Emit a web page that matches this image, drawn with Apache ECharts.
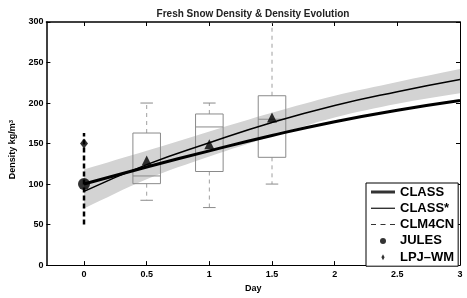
<!DOCTYPE html>
<html>
<head>
<meta charset="utf-8">
<script src="https://cdn.jsdelivr.net/npm/echarts@6/dist/echarts.min.js"></script>
<style>
  html, body { margin: 0; padding: 0; background: #fff; }
  #chart { width: 467px; height: 298px; }
</style>
</head>
<body>
<div id="chart"></div>
<script>
  // tick positions
  const dayTicks = [0, 0.5, 1, 1.5, 2, 2.5, 3]

  // fitted curves (CLASS, CLASS*) and the grey envelope around CLASS*
  const curveDays = [0, 0.5, 1, 1.5, 2, 2.5, 3]
  const classDensity = [100, 121, 141, 160, 177, 191, 203]
  const classStarDensity = [91, 124, 151, 176, 197, 214, 229]
  const bandLower = [70, 106, 134, 159, 182, 199, 212]
  const bandUpper = [118, 141, 165, 188, 209, 226, 242]

  // CLM4CN box plots
  const boxDays = [0.5, 1, 1.5]
  const boxLow = [80, 71, 100]
  const boxQ1 = [100.5, 115.5, 133]
  const boxMedian = [110, 170.5, 180]
  const boxQ3 = [163, 186.5, 209]
  const boxHigh = [200, 200, 320]
  const boxMean = [129, 149, 182]

  // single-point models at day 0
  const julesDay = [0]
  const julesDensity = [100]
  const lpjDay = [0]
  const lpjDensity = [150]
  const lpjLow = [50]
  const lpjHigh = [163]

  const font = "'Liberation Sans', Arial, Helvetica, sans-serif"
  const boxGrey = '#8a8a8a'

  function clipRect(params) {
    const cs = params.coordSys
    return { type: 'rect', shape: { x: cs.x, y: cs.y, width: cs.width, height: cs.height } }
  }

  // the envelope is drawn once, as one smoothed polygon
  // (end points are doubled so the two ends stay straight)
  function renderBand(params, api) {
    if (params.dataIndex !== 0) return
    const top = curveDays.map((d, i) => api.coord([d, bandUpper[i]]))
    const bottom = curveDays.map((d, i) => api.coord([d, bandLower[i]])).reverse()
    const pts = [top[0]].concat(top, [top[top.length - 1]], [bottom[0]], bottom, [bottom[bottom.length - 1]])
    return {
      type: 'polygon',
      clipPath: clipRect(params),
      shape: { points: pts, smooth: 0.35 },
      style: { fill: '#d3d3d3', stroke: null }
    }
  }

  function renderBox(params, api) {
    const x = api.value(0)
    const half = api.size([0.11, 0])[0]
    const cap = api.size([0.05, 0])[0]
    const pLow = api.coord([x, api.value(1)])
    const pQ1 = api.coord([x, api.value(2)])
    const pMed = api.coord([x, api.value(3)])
    const pQ3 = api.coord([x, api.value(4)])
    const pHigh = api.coord([x, api.value(5)])
    const whisker = { stroke: '#a0a0a0', lineWidth: 1, lineDash: [4, 4] }
    const solid = { stroke: boxGrey, lineWidth: 1, fill: null }
    return {
      type: 'group',
      clipPath: clipRect(params),
      children: [
        { type: 'line', shape: { x1: pQ3[0], y1: pQ3[1], x2: pHigh[0], y2: pHigh[1] }, style: whisker },
        { type: 'line', shape: { x1: pQ1[0], y1: pQ1[1], x2: pLow[0], y2: pLow[1] }, style: whisker },
        { type: 'line', shape: { x1: pHigh[0] - cap, y1: pHigh[1], x2: pHigh[0] + cap, y2: pHigh[1] }, style: solid },
        { type: 'line', shape: { x1: pLow[0] - cap, y1: pLow[1], x2: pLow[0] + cap, y2: pLow[1] }, style: solid },
        { type: 'rect', shape: { x: pQ3[0] - half, y: pQ3[1], width: half * 2, height: pQ1[1] - pQ3[1] }, style: solid },
        { type: 'line', shape: { x1: pMed[0] - half, y1: pMed[1], x2: pMed[0] + half, y2: pMed[1] }, style: solid }
      ]
    }
  }

  // legend-only entries, drawn with their own icons
  const legendNames = ['CLASS', 'CLASS*', 'CLM4CN', 'JULES', 'LPJ\u2013WM']
  const legendIcons = [
    'path://M0,0H24V3H0Z',
    'path://M0,0H24V1.4H0Z',
    'path://M0,0H5V1H0Z M9.5,0H14.5V1H9.5Z M19,0H24V1H19Z',
    'path://M10,0A2,2 0 1,1 10,4A2,2 0 1,1 10,0Z',
    'path://M10,0L11.6,3L10,6L8.4,3Z'
  ]

  const chart = echarts.init(document.getElementById('chart'))
  chart.setOption({
    animation: false,
    backgroundColor: '#fff',
    title: {
      text: 'Fresh Snow Density & Density Evolution',
      left: 248,
      top: 4,
      textAlign: 'center',
      textStyle: { fontFamily: font, fontSize: 10, fontWeight: 'bold', color: '#222' }
    },
    grid: { left: 33, right: 7, top: 22, bottom: 29 },
    legend: {
      left: 366,
      top: 183,
      orient: 'vertical',
      itemWidth: 24,
      itemHeight: 6,
      itemGap: 2.3,
      padding: [2, 4, 2, 5],
      backgroundColor: '#fff',
      borderColor: '#000',
      borderWidth: 1,
      borderRadius: 0,
      selectedMode: false,
      textStyle: { fontFamily: font, fontSize: 13, fontWeight: 'bold', color: '#000', lineHeight: 14 },
      data: legendNames.map((n, i) => ({ name: n, icon: legendIcons[i] }))
    },
    xAxis: [
      {
        type: 'value', min: -0.3, max: 3, position: 'bottom',
        name: 'Day', nameLocation: 'middle', nameGap: 16,
        nameTextStyle: { fontFamily: font, fontSize: 9, fontWeight: 'bold', color: '#000' },
        axisLine: { onZero: false, lineStyle: { color: '#000', width: 1 } },
        axisTick: { inside: true, length: 4, customValues: dayTicks, lineStyle: { color: '#000' } },
        axisLabel: { customValues: dayTicks, margin: 5, fontFamily: font, fontSize: 9, fontWeight: 'bold', color: '#000' },
        splitLine: { show: false }
      },
      {
        type: 'value', min: -0.3, max: 3, position: 'top',
        axisLine: { onZero: false, lineStyle: { color: '#000', width: 1.5 } },
        axisTick: { inside: true, length: 4, customValues: dayTicks, lineStyle: { color: '#000' } },
        axisLabel: { show: false },
        splitLine: { show: false }
      }
    ],
    yAxis: [
      {
        type: 'value', min: 0, max: 300, interval: 50, position: 'left',
        name: 'Density kg/m{s|3}', nameLocation: 'middle', nameGap: 20,
        nameTextStyle: {
          fontFamily: font, fontSize: 9, fontWeight: 'bold', color: '#000', padding: [0, 12, 0, 0],
          rich: { s: { fontFamily: font, fontSize: 6, fontWeight: 'bold', color: '#000', verticalAlign: 'top', lineHeight: 10 } }
        },
        axisLine: { onZero: false, lineStyle: { color: '#000', width: 1.5 } },
        axisTick: { inside: true, length: 4, lineStyle: { color: '#000' } },
        axisLabel: { margin: 3, fontFamily: font, fontSize: 9, fontWeight: 'bold', color: '#000' },
        splitLine: { show: false }
      },
      {
        type: 'value', min: 0, max: 300, interval: 50, position: 'right',
        axisLine: { onZero: false, lineStyle: { color: '#000', width: 1 } },
        axisTick: { inside: true, length: 4, lineStyle: { color: '#000' } },
        axisLabel: { show: false },
        splitLine: { show: false }
      }
    ],
    series: [
      {
        name: 'band', type: 'custom', renderItem: renderBand, z: 1, silent: true,
        data: curveDays.map((d, i) => [d, bandLower[i], bandUpper[i]])
      },
      {
        name: 'boxes', type: 'custom', renderItem: renderBox, z: 2, silent: true,
        data: boxDays.map((d, i) => [d, boxLow[i], boxQ1[i], boxMedian[i], boxQ3[i], boxHigh[i]])
      },
      {
        name: 'CLASS line', type: 'line', smooth: true, symbol: 'none', z: 4,
        lineStyle: { color: '#000', width: 3 },
        data: curveDays.map((d, i) => [d, classDensity[i]])
      },
      {
        name: 'CLASS* line', type: 'line', smooth: true, symbol: 'none', z: 4,
        lineStyle: { color: '#000', width: 1.5 },
        data: curveDays.map((d, i) => [d, classStarDensity[i]])
      },
      {
        name: 'mean', type: 'scatter', symbol: 'triangle', symbolSize: 10, z: 5,
        itemStyle: { color: '#000' },
        data: boxDays.map((d, i) => [d, boxMean[i]])
      },
      {
        name: 'LPJ range', type: 'line', symbol: 'none', z: 5,
        lineStyle: { color: '#000', width: 2.5, type: [5, 3] },
        data: [[lpjDay[0], lpjLow[0]], [lpjDay[0], lpjHigh[0]]]
      },
      {
        name: 'JULES point', type: 'scatter', symbol: 'circle', symbolSize: 12, z: 6,
        itemStyle: { color: '#000' },
        data: julesDay.map((d, i) => [d, julesDensity[i]])
      },
      {
        name: 'LPJ point', type: 'scatter', symbol: 'diamond', symbolSize: [8, 10], z: 6,
        itemStyle: { color: '#000' },
        data: lpjDay.map((d, i) => [d, lpjDensity[i]])
      }
    ].concat(legendNames.map(n => ({
      name: n, type: 'scatter', data: [], itemStyle: { color: '#000' }
    })))
  })
</script>
</body>
</html>
